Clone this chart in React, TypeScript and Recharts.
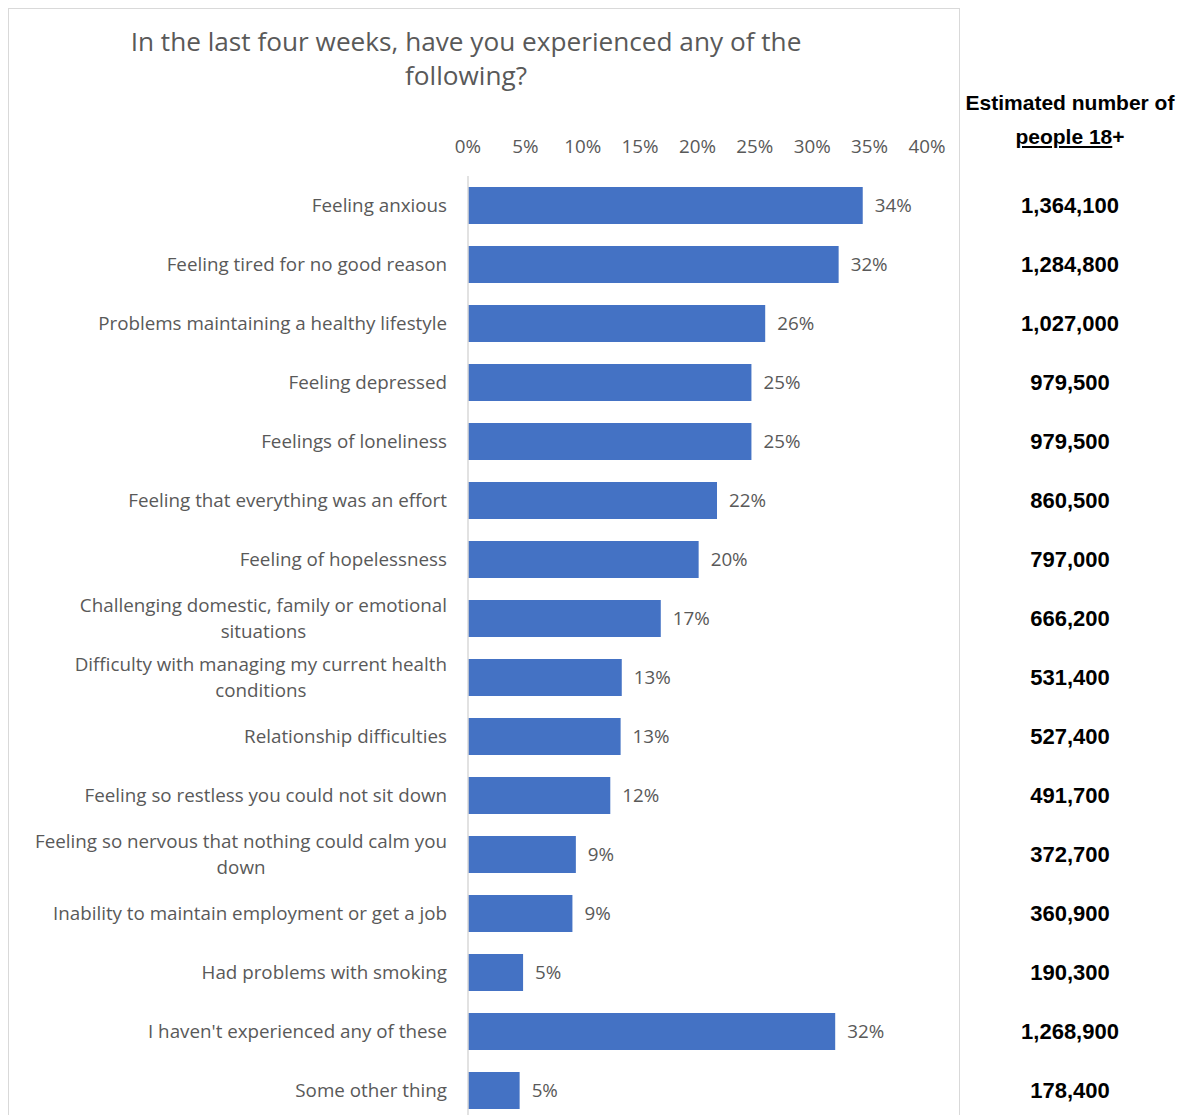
import React from 'react';
import { BarChart, Bar, XAxis, YAxis, LabelList } from 'recharts';

const titleLines = ['In the last four weeks, have you experienced any of the', 'following?'];

const categories = [
  'Feeling anxious',
  'Feeling tired for no good reason',
  'Problems maintaining a healthy lifestyle',
  'Feeling depressed',
  'Feelings of loneliness',
  'Feeling that everything was an effort',
  'Feeling of hopelessness',
  'Challenging domestic, family or emotional\nsituations',
  'Difficulty with managing my current health\nconditions',
  'Relationship difficulties',
  'Feeling so restless you could not sit down',
  'Feeling so nervous that nothing could calm you\ndown',
  'Inability to maintain employment or get a job',
  'Had problems with smoking',
  "I haven't experienced any of these",
  'Some other thing',
];

const percentValues = [34.4, 32.3, 25.9, 24.7, 24.7, 21.7, 20.1, 16.8, 13.4, 13.3, 12.4, 9.4, 9.1, 4.8, 32.0, 4.5];

const estimatedPeople = [
  '1,364,100', '1,284,800', '1,027,000', '979,500', '979,500', '860,500', '797,000', '666,200',
  '531,400', '527,400', '491,700', '372,700', '360,900', '190,300', '1,268,900', '178,400',
];

const xTicks = [0, 5, 10, 15, 20, 25, 30, 35, 40];

const data = categories.map((c, i) => ({ category: c, value: percentValues[i] }));

const FONT = '"Open Sans", sans-serif';
const GREY = '#595959';
const LABEL_SIZE = 18.8;

let ctx: CanvasRenderingContext2D | null = null;
function measure(text: string): number {
  if (!ctx) {
    const c = document.createElement('canvas');
    ctx = c.getContext('2d');
  }
  if (!ctx) return text.length * 9;
  ctx.font = `${LABEL_SIZE}px "Open Sans"`;
  return ctx.measureText(text).width;
}

const CategoryTick = (props: any) => {
  const { x, y, payload } = props;
  const lines: string[] = String(payload.value).split('\n');
  const lh = 26;
  if (lines.length === 1) {
    return (
      <text x={x} y={y} dy="0.35em" textAnchor="end" fill={GREY} fontSize={LABEL_SIZE} fontFamily={FONT}>
        {lines[0]}
      </text>
    );
  }
  const w = Math.max(...lines.map(measure));
  const cx = x - w / 2;
  const start = y - ((lines.length - 1) * lh) / 2;
  return (
    <text textAnchor="middle" fill={GREY} fontSize={LABEL_SIZE} fontFamily={FONT}>
      {lines.map((l, i) => (
        <tspan key={i} x={cx} y={start + i * lh} dy="0.35em">
          {l}
        </tspan>
      ))}
    </text>
  );
};

const NumberTick = (props: any) => {
  const { x, y, payload } = props;
  const idx = categories.indexOf(payload.value);
  return (
    <text
      x={x + 143}
      y={y}
      dy="0.35em"
      textAnchor="middle"
      fill="#000000"
      fontSize={22}
      fontWeight={700}
      fontFamily='"Liberation Sans", Arial, sans-serif'
    >
      {idx >= 0 ? estimatedPeople[idx] : ''}
    </text>
  );
};

export default function App() {
  return (
    <div
      style={{
        position: 'fixed',
        left: 0,
        top: 0,
        width: 1185,
        height: 1115,
        overflow: 'hidden',
        background: '#ffffff',
      }}
    >
      <div
        style={{
          position: 'absolute',
          left: 8,
          top: 8,
          width: 952,
          height: 1200,
          border: '1px solid #d9d9d9',
          boxSizing: 'border-box',
        }}
      />
      <div
        style={{
          position: 'absolute',
          left: 8,
          top: 24,
          width: 916,
          textAlign: 'center',
          fontFamily: FONT,
          fontSize: 26.2,
          lineHeight: '34px',
          color: GREY,
        }}
      >
        {titleLines.map((t, i) => (
          <div key={i} style={{ whiteSpace: 'nowrap' }}>{t}</div>
        ))}
      </div>
      <div
        style={{
          position: 'absolute',
          left: 960,
          top: 86,
          width: 220,
          textAlign: 'center',
          fontFamily: '"Liberation Sans", Arial, sans-serif',
          fontWeight: 700,
          fontSize: 21,
          lineHeight: '34px',
          color: '#000000',
          whiteSpace: 'nowrap',
        }}
      >
        <div>Estimated number of</div>
        <div>
          <span style={{ textDecoration: 'underline' }}>people 18</span>+
        </div>
      </div>
      <div style={{ position: 'absolute', left: 8, top: 8 }}>
        <BarChart
          width={1177}
          height={1130}
          data={data}
          layout="vertical"
          margin={{ top: 128, right: 0, bottom: 18, left: 0 }}
          barSize={37}
        >
          <XAxis
            type="number"
            orientation="top"
            domain={[0, 40]}
            ticks={xTicks}
            tickFormatter={(v: number) => `${v}%`}
            axisLine={false}
            tickLine={false}
            tickSize={0}
            tickMargin={23}
            height={40}
            interval={0}
            tick={{ fill: GREY, fontSize: LABEL_SIZE, fontFamily: FONT }}
          />
          <YAxis
            type="category"
            dataKey="category"
            width={460}
            axisLine={{ stroke: '#d9d9d9', strokeWidth: 1.5 }}
            tickLine={false}
            tickSize={0}
            tickMargin={21}
            interval={0}
            tick={<CategoryTick />}
          />
          <YAxis
            yAxisId="right"
            type="category"
            dataKey="category"
            orientation="right"
            width={258}
            axisLine={false}
            tickLine={false}
            tickSize={0}
            tickMargin={0}
            interval={0}
            tick={<NumberTick />}
          />
          <Bar dataKey="value" fill="#4472C4" isAnimationActive={false}>
            <LabelList
              dataKey="value"
              position="right"
              offset={12}
              fill={GREY}
              fontSize={LABEL_SIZE}
              fontFamily={FONT}
              formatter={(v: any) => `${Math.round(Number(v))}%`}
            />
          </Bar>
        </BarChart>
      </div>
    </div>
  );
}
